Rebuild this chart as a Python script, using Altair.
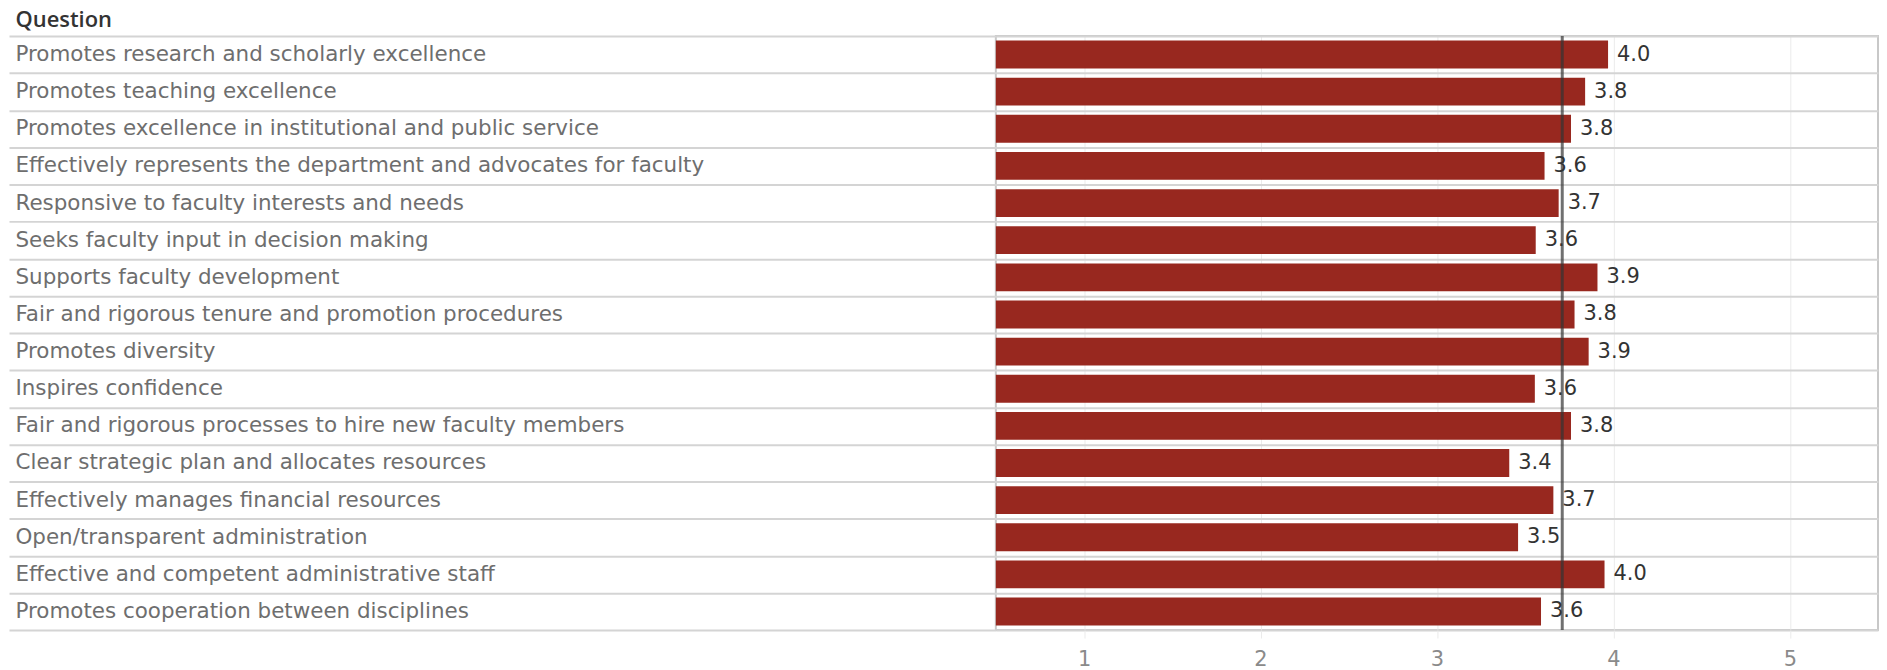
import altair as alt
import pandas as pd

questions = [
    "Promotes research and scholarly excellence",
    "Promotes teaching excellence",
    "Promotes excellence in institutional and public service",
    "Effectively represents the department and advocates for faculty",
    "Responsive to faculty interests and needs",
    "Seeks faculty input in decision making",
    "Supports faculty development",
    "Fair and rigorous tenure and promotion procedures",
    "Promotes diversity",
    "Inspires confidence",
    "Fair and rigorous processes to hire new faculty members",
    "Clear strategic plan and allocates resources",
    "Effectively manages financial resources",
    "Open/transparent administration",
    "Effective and competent administrative staff",
    "Promotes cooperation between disciplines",
]
scores = [3.97, 3.84, 3.76, 3.61, 3.69, 3.56, 3.91, 3.78,
          3.86, 3.555, 3.76, 3.41, 3.66, 3.46, 3.95, 3.59]
x_ticks = [1, 2, 3, 4, 5]

df = pd.DataFrame({"Question": questions, "Score": scores})

FONT = "DejaVu Sans"
W, H = 885, 596

x_scale = alt.Scale(domain=[0.5, 5.5], nice=False, zero=False)

y_enc = alt.Y(
    "Question:N",
    sort=questions,
    scale=alt.Scale(paddingInner=0, paddingOuter=0),
    axis=alt.Axis(
        title="Question", titleAngle=0, titleX=-984, titleY=-16,
        titleAlign="left", titleBaseline="middle", titleFont="Open Sans",
        titleFontSize=22, titleFontWeight=600, titleColor="#333333",
        labelAlign="left", labelPadding=-6, labelLimit=1000, labelFont=FONT,
        labelFontSize=21.5, labelColor="#6e6e6e", labelBaseline="middle",
        ticks=True, tickBand="extent", tickSize=990, tickColor="#d4d4d4",
        tickWidth=2, grid=True, gridColor="#d4d4d4", gridWidth=2,
        domain=False,
    ),
)

x_axis = alt.Axis(
    values=x_ticks, title=None, format="d", grid=True, gridColor="#ebebeb",
    gridWidth=1, ticks=True, tickColor="#ebebeb", tickSize=8, domain=False,
    labelFont=FONT, labelFontSize=21, labelColor="#8a8a8a", labelPadding=11,
)

base = alt.Chart(df)

bars = base.mark_bar(color="#98281f", clip=True,
                     height=alt.RelativeBandSize(0.75)).encode(
    x=alt.X("Score:Q", scale=x_scale, axis=x_axis),
    y=y_enc,
)

rule = base.mark_rule(color="#333333", opacity=0.7, strokeWidth=3).encode(
    x=alt.X("mean(Score):Q", scale=x_scale, axis=x_axis),
)

labels = base.mark_text(align="left", baseline="middle", dx=9, font=FONT,
                        fontSize=21, color="#333333").encode(
    x=alt.X("Score:Q", scale=x_scale, axis=x_axis),
    y=y_enc,
    text=alt.Text("Score:Q", format=".1f"),
)

chart = alt.layer(bars, rule, labels).properties(
    width=W, height=H,
    padding={"left": 991, "top": 27, "right": 1, "bottom": 39},
    autosize=alt.AutoSizeParams(type="none"),
).configure_view(stroke="#c8c8c8", strokeWidth=2)

chart.save("out.html", embed_options={"renderer": "svg", "actions": False})
